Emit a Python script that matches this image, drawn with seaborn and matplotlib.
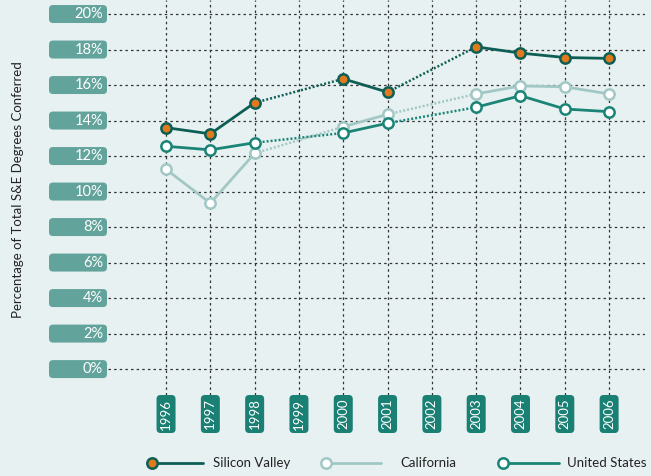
import pandas as pd
import matplotlib.pyplot as plt
import seaborn as sns
from matplotlib.patches import FancyBboxPatch
from matplotlib.lines import Line2D
from matplotlib.transforms import IdentityTransform

# ---- data (percent of total S&E degrees conferred) ----
years = [1996, 1997, 1998, 1999, 2000, 2001, 2002, 2003, 2004, 2005, 2006]
silicon_valley = [13.6, 13.25, 15.0, None, 16.35, 15.6, None, 18.15, 17.8, 17.55, 17.5]
california = [11.25, 9.35, 12.15, None, 13.65, 14.35, None, 15.5, 15.95, 15.9, 15.5]
united_states = [12.55, 12.35, 12.75, None, 13.3, 13.85, None, 14.75, 15.4, 14.65, 14.5]
y_ticks = [0, 2, 4, 6, 8, 10, 12, 14, 16, 18, 20]
series_names = ["Silicon Valley", "California", "United States"]

BG = "#e8f1f2"
styles = {
    "Silicon Valley": dict(line="#0d5e55", face="#e07a1c", edge="#0d5e55", z=6),
    "California": dict(line="#a2c8c5", face="white", edge="#a2c8c5", z=4),
    "United States": dict(line="#1a8576", face="white", edge="#1a8576", z=5),
}

df = pd.DataFrame({"year": years, "Silicon Valley": silicon_valley,
                   "California": california, "United States": united_states})

sns.set_theme(style="white")
plt.rcParams["font.family"] = ["Lato", "DejaVu Sans"]

W, H = 651, 476
fig = plt.figure(figsize=(W / 100, H / 100), dpi=100, facecolor=BG)
ax = fig.add_axes([108 / W, (H - 395) / H, 537 / W, 395 / H])
ax.set_facecolor(BG)
ax.set_xlim(1994.69, 2006.81)
ax.set_ylim(-1.46, 20.79)
ax.set_xticks([])
ax.set_yticks([])
for s in ax.spines.values():
    s.set_visible(False)

# dotted grid
for v in y_ticks:
    ax.axhline(v, color="#333333", lw=0.9, ls=(0, (2, 2.5)), zorder=1)
for yr in years:
    ax.axvline(yr, color="#333333", lw=0.9, ls=(0, (2, 2.5)), zorder=1)

# lines: solid within runs, dotted across missing years
for name in series_names:
    st = styles[name]
    sub = df[["year", name]].reset_index(drop=True)
    runs, cur = [], []
    for _, r in sub.iterrows():
        if pd.isna(r[name]):
            if cur:
                runs.append(cur)
            cur = []
        else:
            cur.append((r["year"], r[name]))
    if cur:
        runs.append(cur)
    for run in runs:
        if len(run) > 1:
            sns.lineplot(x=[p[0] for p in run], y=[p[1] for p in run], ax=ax,
                         color=st["line"], lw=2.0, zorder=st["z"], legend=False)
    for a, b in zip(runs[:-1], runs[1:]):
        sns.lineplot(x=[a[-1][0], b[0][0]], y=[a[-1][1], b[0][1]], ax=ax,
                     color=st["line"], lw=1.8, ls=(0, (0.8, 0.8)), zorder=st["z"] - 0.5,
                     legend=False)
    pts = sub.dropna()
    sns.scatterplot(x=pts["year"], y=pts[name], ax=ax, s=55, color=st["face"],
                    edgecolor=st["edge"], linewidth=1.8, zorder=st["z"] + 0.5,
                    legend=False)
ax.set_xlabel("")
ax.set_ylabel("")

# tick label boxes (pixel coordinates)
ident = IdentityTransform()
for v in y_ticks:
    yd = ax.transData.transform((2000, v))[1]
    box = FancyBboxPatch((49, yd - 9), 58, 18, boxstyle="round,pad=0,rounding_size=4",
                         fc="#62a49b", ec="none", transform=ident)
    fig.add_artist(box)
    fig.text(103 / W, yd / H, f"{v}%", color="white", fontsize=10.5,
             ha="right", va="center")
for yr in years:
    xd = ax.transData.transform((yr, 0))[0]
    box = FancyBboxPatch((xd - 9.5, H - 433), 19, 38, boxstyle="round,pad=0,rounding_size=4",
                         fc="#1a8073", ec="none", transform=ident)
    fig.add_artist(box)
    fig.text(xd / W, (H - 414) / H, str(yr), color="white", fontsize=9.5,
             rotation=90, ha="center", va="center")

fig.text(18 / W, (H - 190) / H, "Percentage of Total S&E Degrees Conferred",
         rotation=90, ha="center", va="center", fontsize=9.5, color="#222222")

# legend
legend_pos = [(152, 203, 213), (326, 381, 400), (503, 559, 567)]
for name, (mx, lx, tx) in zip(series_names, legend_pos):
    st = styles[name]
    yy = H - 463
    fig.add_artist(Line2D([mx, lx], [yy, yy], color=st["line"], lw=2.0, transform=ident))
    fig.add_artist(Line2D([mx], [yy], marker="o", ms=7.5, mfc=st["face"], mec=st["edge"],
                          mew=1.8, lw=0, transform=ident))
    fig.text(tx / W, yy / H, name, fontsize=9.5, ha="left", va="center", color="#222222")

fig.savefig("out.png", dpi=100, facecolor=BG)
